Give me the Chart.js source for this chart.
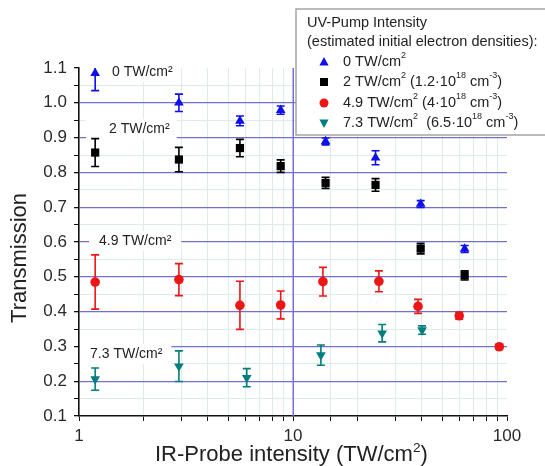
<!DOCTYPE html>
<html>
<head>
<meta charset="utf-8">
<script src="https://cdn.jsdelivr.net/npm/chart.js@4.4.1/dist/chart.umd.min.js"></script>
<style>
    body { margin: 0; background: #fff; }
    #transmission-chart { display: block; }
</style>
</head>
<body>
<canvas id="transmission-chart" width="545" height="466"></canvas>
<script>
// IR-probe intensity (TW/cm2) and measured transmission, one set per UV-pump intensity
const pump0X = [1.19, 2.93, 5.65, 8.76, 14.2, 24.3, 39.5, 63.4];
const pump0Y = [1.085, 1.0, 0.948, 0.979, 0.889, 0.842, 0.709, 0.58];
const pump0Err = [0.05, 0.025, 0.014, 0.012, 0.01, 0.02, 0.01, 0.01];

const pump2X = [1.19, 2.93, 5.65, 8.76, 14.2, 24.3, 39.5, 63.4];
const pump2Y = [0.857, 0.837, 0.870, 0.818, 0.770, 0.764, 0.581, 0.504];
const pump2Err = [0.04, 0.035, 0.025, 0.018, 0.016, 0.018, 0.015, 0.013];

const pump49X = [1.19, 2.93, 5.65, 8.76, 13.8, 25.2, 38.4, 59.8, 92];
const pump49Y = [0.485, 0.492, 0.418, 0.419, 0.486, 0.487, 0.415, 0.388, 0.299];
const pump49Err = [0.078, 0.046, 0.069, 0.04, 0.041, 0.03, 0.02, 0.01, 0.006];

const pump73X = [1.19, 2.93, 6.08, 13.5, 26.1, 40.1];
const pump73Y = [0.206, 0.243, 0.21, 0.275, 0.338, 0.347];
const pump73Err = [0.032, 0.044, 0.026, 0.029, 0.025, 0.012];

const xTickLabels = [1, 10, 100];
const yMin = 0.1, yMax = 1.1;

const BLUE = 'rgb(15, 15, 235)';
const BLACK = 'rgb(0, 0, 0)';
const RED = 'rgb(235, 22, 22)';
const TEAL = 'rgb(0, 126, 126)';
const MAJOR_GRID = 'rgb(112, 112, 205)';
const DECADE_GRID = 'rgb(118, 108, 228)';
const MINOR_GRID = 'rgb(222, 236, 230)';
const FONT = '"Liberation Sans", Arial, sans-serif';

function points(xs, ys) {
    return xs.map((x, i) => ({ x: x, y: ys[i] }));
}

function isTenth(v) {
    return Math.abs(v * 10 - Math.round(v * 10)) < 1e-6;
}

function isDecade(v) {
    const l = Math.log10(v);
    return Math.abs(l - Math.round(l)) < 1e-6;
}

// Pump intensity labels written inside the plot, each on a white patch over the grid
const plotLabels = [
    { text: '0 TW/cm²', x: 1.426, y: 1.0885, padL: 6, padR: 6 },
    { text: '2 TW/cm²', x: 1.381, y: 0.924, padL: 23, padR: 7 },
    { text: '4.9 TW/cm²', x: 1.24, y: 0.6037, padL: 10, padR: 10 },
    { text: '7.3 TW/cm²', x: 1.126, y: 0.2782, padL: 10, padR: 9 }
];

// Legend rows: text runs, superscripts flagged
const legendRows = [
    { style: 'triangle', color: BLUE, runs: [['0 TW/cm'], ['2', 1]] },
    { style: 'rect', color: BLACK, runs: [['2 TW/cm'], ['2', 1], [' (1.2·10'], ['18', 1], [' cm'], ['-3', 1], [')']] },
    { style: 'circle', color: RED, runs: [['4.9 TW/cm'], ['2', 1], [' (4·10'], ['18', 1], [' cm'], ['-3', 1], [')']] },
    { style: 'down', color: TEAL, runs: [['7.3 TW/cm'], ['2', 1], ['  (6.5·10'], ['18', 1], [' cm'], ['-3', 1], [')']] }
];

function drawRuns(ctx, x, y, runs, size) {
    runs.forEach(r => {
        const sup = r[1];
        ctx.font = (sup ? size * 0.62 : size) + 'px ' + FONT;
        ctx.fillText(r[0], x, sup ? y - size * 0.42 : y);
        x += ctx.measureText(r[0]).width;
    });
    return x;
}

function drawMarker(ctx, style, x, y, color) {
    ctx.save();
    ctx.fillStyle = color;
    ctx.beginPath();
    if (style === 'triangle') {
        ctx.moveTo(x, y - 5); ctx.lineTo(x + 4.6, y + 3.5); ctx.lineTo(x - 4.6, y + 3.5);
    } else if (style === 'down') {
        ctx.moveTo(x, y + 5); ctx.lineTo(x + 4.6, y - 3.5); ctx.lineTo(x - 4.6, y - 3.5);
    } else if (style === 'rect') {
        ctx.rect(x - 4, y - 4, 8, 8);
    } else {
        ctx.arc(x, y, 4.5, 0, Math.PI * 2);
    }
    ctx.closePath();
    ctx.fill();
    ctx.restore();
}

const overlayPlugin = {
    id: 'overlay',
    beforeDatasetsDraw(chart) {
        const ctx = chart.ctx;
        const xs = chart.scales.x, ys = chart.scales.y;
        const area = chart.chartArea;

        // solid decade line at x = 10
        ctx.save();
        ctx.fillStyle = DECADE_GRID;
        const x10 = Math.round(xs.getPixelForValue(10));
        ctx.fillRect(x10 - 0.5, area.top, 1.5, area.bottom - area.top);
        ctx.restore();

        // label patches and text
        ctx.save();
        ctx.font = '14px ' + FONT;
        ctx.textBaseline = 'middle';
        plotLabels.forEach(l => {
            const px = xs.getPixelForValue(l.x);
            const py = ys.getPixelForValue(l.y);
            const w = ctx.measureText(l.text).width;
            ctx.fillStyle = '#fff';
            ctx.fillRect(Math.max(px - l.padL, area.left + 1), py - 10, w + l.padL + l.padR, 20);
            ctx.fillStyle = '#222';
            ctx.fillText(l.text, px, py);
        });
        ctx.restore();

        // error bars, clipped to the plot area
        ctx.save();
        ctx.beginPath();
        ctx.rect(area.left, area.top, area.right - area.left, area.bottom - area.top);
        ctx.clip();
        chart.data.datasets.forEach(ds => {
            ctx.strokeStyle = ds.borderColor;
            ctx.lineWidth = 1.6;
            ds.data.forEach((p, i) => {
                const e = ds.errors[i];
                const px = xs.getPixelForValue(p.x);
                const top = ys.getPixelForValue(p.y + e);
                const bot = ys.getPixelForValue(p.y - e);
                ctx.beginPath();
                ctx.moveTo(px, top); ctx.lineTo(px, bot);
                ctx.moveTo(px - 4, top); ctx.lineTo(px + 4, top);
                ctx.moveTo(px - 4, bot); ctx.lineTo(px + 4, bot);
                ctx.stroke();
            });
        });
        ctx.restore();
    },
    afterDraw(chart) {
        const ctx = chart.ctx;
        ctx.save();
        ctx.fillStyle = '#222';
        ctx.textBaseline = 'alphabetic';

        // axis titles
        drawRuns(ctx, 155, 461, [['IR-Probe intensity (TW/cm'], ['2', 1], [')']], 22);
        ctx.save();
        ctx.translate(26, 258);
        ctx.rotate(-Math.PI / 2);
        ctx.font = '22px ' + FONT;
        ctx.textAlign = 'center';
        ctx.fillText('Transmission', 0, 0);
        ctx.restore();

        // legend box
        ctx.fillStyle = '#fff';
        ctx.fillRect(296, 9, 260, 126);
        ctx.strokeStyle = 'rgb(165, 165, 165)';
        ctx.lineWidth = 1.5;
        ctx.strokeRect(296, 9, 260, 126);
        ctx.fillStyle = '#222';
        ctx.textBaseline = 'middle';
        ctx.font = '14.5px ' + FONT;
        ctx.fillText('UV-Pump Intensity', 307, 23);
        ctx.fillText('(estimated initial electron densities):', 307, 42);
        const rowY = [62, 82, 103, 123];
        legendRows.forEach((row, i) => {
            drawMarker(ctx, row.style, 324, rowY[i], row.color);
            ctx.fillStyle = '#222';
            drawRuns(ctx, 343, rowY[i], row.runs, 14.5);
        });
        ctx.restore();
    }
};

function series(label, xs, ys, errs, color, style, radius, rotation) {
    return {
        label: label,
        data: points(xs, ys),
        errors: errs,
        borderColor: color,
        backgroundColor: color,
        pointStyle: style,
        pointRadius: radius,
        pointRotation: rotation,
        pointBorderWidth: 0,
        showLine: false
    };
}

const ctx = document.getElementById('transmission-chart').getContext('2d');
const transmissionChart = new Chart(ctx, {
    type: 'scatter',
    data: {
        datasets: [
            series('0 TW/cm2', pump0X, pump0Y, pump0Err, BLUE, 'triangle', 5.6, 0),
            series('2 TW/cm2', pump2X, pump2Y, pump2Err, BLACK, 'rect', 5.8, 0),
            series('4.9 TW/cm2', pump49X, pump49Y, pump49Err, RED, 'circle', 4.8, 0),
            series('7.3 TW/cm2', pump73X, pump73Y, pump73Err, TEAL, 'triangle', 5.6, 180)
        ]
    },
    options: {
        responsive: false,
        animation: false,
        devicePixelRatio: 1,
        layout: { padding: { top: 68, right: 38, left: 0, bottom: 0 } },
        plugins: {
            legend: { display: false },
            tooltip: { enabled: false }
        },
        scales: {
            x: {
                type: 'logarithmic',
                min: 1,
                max: 100,
                afterFit: (scale) => { scale.height = 50; },
                border: { color: '#111', width: 1.6 },
                grid: {
                    // decade lines are drawn by the overlay plugin
                    color: (c) => (isDecade(c.tick.value) ? 'rgba(0,0,0,0)' : MINOR_GRID),
                    lineWidth: 1,
                    tickColor: '#111',
                    tickLength: 5
                },
                ticks: {
                    autoSkip: false,
                    maxRotation: 0,
                    padding: 5,
                    color: '#2a2a2a',
                    font: { family: FONT, size: 17 },
                    callback: (v) => (xTickLabels.includes(v) ? String(v) : '')
                }
            },
            y: {
                min: yMin,
                max: yMax,
                afterFit: (scale) => { scale.width = 79; },
                border: { color: '#111', width: 1.6 },
                grid: {
                    color: (c) => {
                        const v = c.tick.value;
                        if (v < 0.12 || v > 1.08) return 'rgba(0,0,0,0)';
                        return isTenth(v) ? MAJOR_GRID : MINOR_GRID;
                    },
                    lineWidth: (c) => (isTenth(c.tick.value) ? 1.3 : 1),
                    tickColor: '#111',
                    tickLength: 5
                },
                ticks: {
                    stepSize: 0.05,
                    autoSkip: false,
                    padding: 7,
                    color: '#2a2a2a',
                    font: { family: FONT, size: 17 },
                    callback: (v) => (isTenth(v) ? v.toFixed(1) : '')
                }
            }
        }
    },
    plugins: [overlayPlugin]
});
</script>
</body>
</html>
